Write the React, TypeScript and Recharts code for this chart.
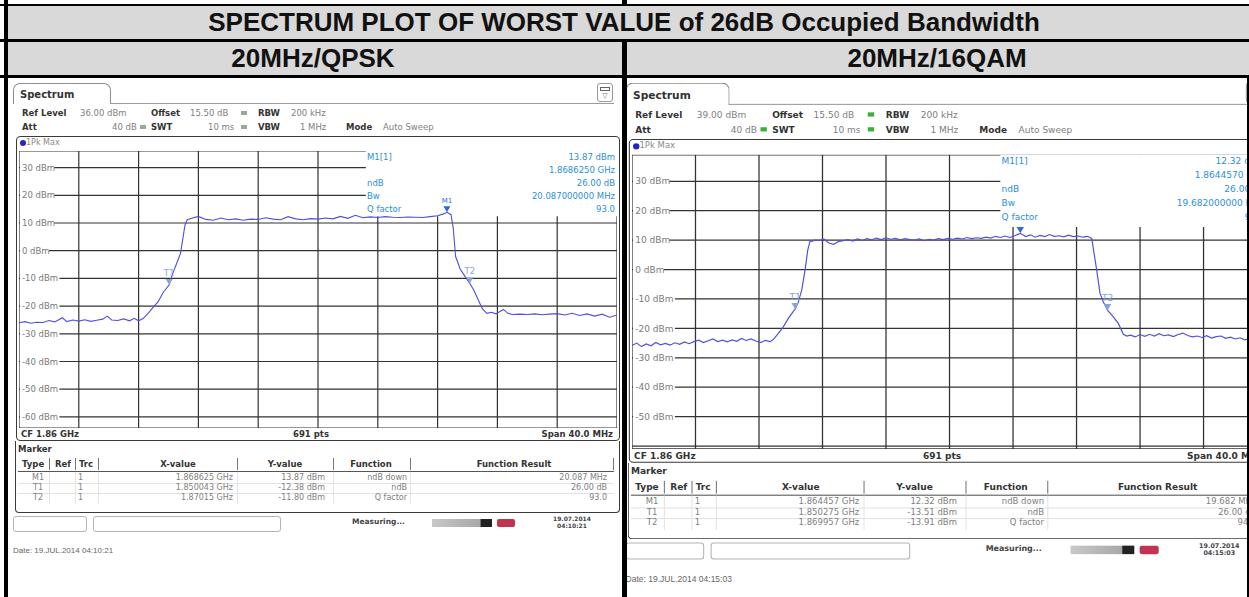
import {
  CartesianGrid,
  ComposedChart,
  Line,
  ReferenceArea,
  Scatter,
  XAxis,
  YAxis,
} from "recharts"

const SANS = "'DejaVu Sans', Verdana, sans-serif"
const ARIAL = "'Liberation Sans', Arial, sans-serif"

// sweep 1.84 .. 1.88 GHz (CF 1.86 GHz, span 40 MHz), 10 divisions, values in MHz
const freqTicks = [1840, 1844, 1848, 1852, 1856, 1860, 1864, 1868, 1872, 1876, 1880]

// ---- 20MHz/QPSK, ref level 36 dBm ----
const qpskTrace: [number, number][] = [
  [1840.0, -26.0], [1840.4, -25.6], [1840.8, -26.2], [1841.2, -25.8], [1841.6, -25.9],
  [1842.0, -25.2], [1842.4, -25.7], [1842.9, -24.2], [1843.2, -25.6], [1843.6, -25.0],
  [1844.0, -25.4], [1844.4, -24.9], [1844.8, -25.5], [1845.2, -25.1], [1845.6, -24.7],
  [1845.9, -23.6], [1846.2, -25.0], [1846.6, -25.2], [1847.0, -24.6], [1847.4, -25.3],
  [1847.7, -24.4], [1848.0, -25.3], [1848.3, -24.5], [1848.6, -22.8], [1849.0, -20.3],
  [1849.3, -18.5], [1849.65, -15.0], [1850.04, -12.4], [1850.3, -8.0], [1850.55, -4.5],
  [1850.8, -1.0], [1850.95, 4.0], [1851.1, 9.2], [1851.25, 11.2], [1851.5, 11.6],
  [1852.0, 12.4], [1852.5, 11.3], [1853.0, 11.0], [1853.5, 11.8], [1854.0, 11.2],
  [1854.5, 11.5], [1855.0, 11.0], [1855.5, 11.4], [1856.0, 11.3], [1856.5, 11.9],
  [1857.0, 11.4], [1857.5, 11.2], [1858.0, 12.3], [1858.5, 11.5], [1859.0, 11.2],
  [1859.5, 11.6], [1860.0, 11.4], [1860.5, 11.8], [1861.0, 11.5], [1861.5, 12.4],
  [1862.0, 11.7], [1862.5, 12.8], [1863.0, 11.9], [1863.5, 12.2], [1864.0, 12.0],
  [1864.5, 12.3], [1865.0, 12.1], [1865.5, 12.0], [1866.0, 12.2], [1866.5, 12.1],
  [1867.0, 12.0], [1867.5, 12.3], [1868.0, 12.6], [1868.4, 13.3], [1868.63, 13.87],
  [1868.9, 13.0], [1869.05, 8.0], [1869.2, -2.0], [1869.5, -6.5], [1869.8, -9.0],
  [1870.15, -11.8], [1870.4, -14.0], [1870.7, -17.5], [1871.0, -21.0], [1871.3, -22.6],
  [1871.6, -22.2], [1871.9, -22.8], [1872.4, -21.2], [1872.7, -22.6], [1873.0, -23.0],
  [1873.5, -22.9], [1874.0, -23.0], [1874.5, -22.8], [1875.0, -23.1], [1875.5, -22.9],
  [1876.0, -22.7], [1876.5, -23.2], [1877.0, -22.6], [1877.5, -23.4], [1878.0, -22.8],
  [1878.5, -23.6], [1879.0, -22.9], [1879.5, -24.0], [1880.0, -23.2],
]
const qpskMarkerNames = ["M1", "T1", "T2"]
const qpskMarkerFreq = [1868.625, 1850.043, 1870.15]
const qpskMarkerLevel = [13.87, -12.38, -11.8]
const qpskFunctions = ["ndB down", "ndB", "Q factor"]
const qpskResults = ["20.087 MHz", "26.00 dB", "93.0"]
const qpskBw = "20.087000000"
const qpskQ = "93.0"
const qpskYTicks = [36, 30, 20, 10, 0, -10, -20, -30, -40, -50, -60, -64]
const qpskYLabels = [30, 20, 10, 0, -10, -20, -30, -40, -50, -60]

// ---- 20MHz/16QAM, ref level 39 dBm ----
const qamTrace: [number, number][] = [
  [1840.0, -25.8], [1840.3, -25.0], [1840.6, -26.2], [1840.9, -25.3], [1841.2, -25.9],
  [1841.5, -24.8], [1841.8, -25.6], [1842.1, -25.1], [1842.4, -25.7], [1842.7, -24.9],
  [1843.0, -25.4], [1843.3, -24.6], [1843.6, -25.2], [1843.9, -24.5], [1844.2, -24.0],
  [1844.5, -24.8], [1844.8, -24.2], [1845.1, -23.6], [1845.4, -24.5], [1845.7, -24.0],
  [1846.0, -24.6], [1846.3, -23.9], [1846.6, -24.4], [1846.9, -23.4], [1847.2, -24.1],
  [1847.5, -23.6], [1847.8, -24.3], [1848.1, -24.8], [1848.4, -24.1], [1848.7, -24.5],
  [1848.9, -23.8], [1849.22, -21.7], [1849.53, -19.5], [1849.85, -16.6], [1850.16, -14.2],
  [1850.28, -13.5], [1850.48, -11.0], [1850.69, -7.0], [1850.9, -0.2], [1851.07, 6.6],
  [1851.2, 9.4], [1851.5, 10.0], [1851.8, 9.9], [1852.1, 10.3], [1852.4, 9.0],
  [1852.7, 8.6], [1853.0, 9.5], [1853.3, 9.8], [1853.6, 10.2], [1853.9, 9.7],
  [1854.2, 10.4], [1854.5, 9.9], [1854.8, 10.5], [1855.1, 10.1], [1855.4, 10.7],
  [1855.7, 10.2], [1856.0, 10.8], [1856.3, 10.3], [1856.6, 10.6], [1856.9, 10.1],
  [1857.2, 10.5], [1857.5, 10.2], [1857.8, 10.0], [1858.1, 10.4], [1858.4, 9.8],
  [1858.7, 10.3], [1859.0, 10.0], [1859.3, 10.5], [1859.6, 10.2], [1859.9, 10.6],
  [1860.2, 10.3], [1860.5, 10.7], [1860.8, 10.4], [1861.1, 10.9], [1861.4, 10.5],
  [1861.7, 10.8], [1862.0, 10.6], [1862.3, 11.0], [1862.6, 10.7], [1862.9, 11.3],
  [1863.2, 10.9], [1863.5, 11.4], [1863.8, 10.9], [1864.1, 11.5], [1864.46, 12.3],
  [1864.8, 11.2], [1865.1, 11.8], [1865.4, 11.0], [1865.7, 11.6], [1866.0, 11.2],
  [1866.3, 11.9], [1866.6, 11.3], [1866.9, 11.5], [1867.2, 11.1], [1867.5, 11.7],
  [1867.8, 11.2], [1868.1, 11.4], [1868.4, 11.0], [1868.7, 11.3], [1868.96, 10.6],
  [1869.27, -0.2], [1869.48, -8.1], [1869.69, -11.0], [1869.96, -13.9], [1870.32, -16.1],
  [1870.63, -18.3], [1870.95, -22.0], [1871.16, -22.6], [1871.4, -22.3], [1871.7, -22.9],
  [1872.0, -22.1], [1872.3, -22.7], [1872.6, -22.0], [1872.9, -22.6], [1873.2, -21.8],
  [1873.5, -22.5], [1873.8, -22.2], [1874.1, -22.8], [1874.4, -22.1], [1874.7, -21.6],
  [1875.0, -22.4], [1875.3, -22.9], [1875.6, -22.6], [1875.9, -23.1], [1876.2, -22.5],
  [1876.5, -23.3], [1876.8, -22.8], [1877.1, -22.6], [1877.4, -23.4], [1877.7, -23.0],
  [1878.0, -23.6], [1878.3, -23.2], [1878.6, -23.9], [1878.9, -23.5], [1879.2, -24.1],
  [1879.6, -23.7], [1880.0, -24.2],
]
const qamMarkerNames = ["M1", "T1", "T2"]
const qamMarkerFreq = [1864.457, 1850.275, 1869.957]
const qamMarkerLevel = [12.32, -13.51, -13.91]
const qamFunctions = ["ndB down", "ndB", "Q factor"]
const qamResults = ["19.682 MHz", "26.00 dB", "94.7"]
const qamBw = "19.682000000"
const qamQ = "94.7"
const qamYTicks = [39, 30, 20, 10, 0, -10, -20, -30, -40, -50, -60, -61]
const qamYLabels = [30, 20, 10, 0, -10, -20, -30, -40, -50]

type TxtProps = {
  x: number
  y: number
  s: string
  size?: number
  bold?: boolean
  color?: string
  align?: "left" | "right" | "center"
  font?: string
}

function Txt({ x, y, s, size = 8.5, bold, color = "#808080", align = "left", font = SANS }: TxtProps) {
  const tx = align === "right" ? "translateX(-100%)" : align === "center" ? "translateX(-50%)" : undefined
  return (
    <div
      style={{
        position: "absolute",
        left: x,
        top: y - 7,
        height: 14,
        lineHeight: "14px",
        fontSize: size,
        fontWeight: bold ? "bold" : "normal",
        color,
        whiteSpace: "nowrap",
        transform: tx,
        fontFamily: font,
      }}
    >
      {s}
    </div>
  )
}

function Box(props: { x: number; y: number; w: number; h: number; style?: React.CSSProperties }) {
  return (
    <div
      style={{
        position: "absolute",
        left: props.x,
        top: props.y,
        width: props.w,
        height: props.h,
        boxSizing: "border-box",
        ...props.style,
      }}
    />
  )
}

function makeTick(labels: number[]) {
  return (props: any) => {
    const { y, payload } = props
    if (!labels.includes(payload.value)) return <g />
    const s = `${payload.value} dBm`
    return (
      <g>
        <rect x={1} y={y - 5} width={s.length * 5.2 + 3} height={10} fill="#fff" />
        <text x={3} y={y + 3} fontSize={8.5} fill="#7a7a7a" fontFamily={SANS}>
          {s}
        </text>
      </g>
    )
  }
}

// marker triangle sits on the trace; labelled markers get their name above it
function makeMarkerShape(showMain: boolean) {
  return (props: any) => {
    const { cx, cy, payload } = props
    const main = payload.name === "M1"
    const col = main ? "#2a6fd0" : "#86a6d6"
    return (
      <g>
        <polygon points={`${cx - 3.5},${cy - 6} ${cx + 3.5},${cy - 6} ${cx},${cy}`} fill={col} />
        {(!main || showMain) && (
          <text x={cx} y={cy - 9} textAnchor="middle" fontSize={main ? 7 : 8.5} fill={col} fontFamily={SANS}>
            {payload.name}
          </text>
        )}
      </g>
    )
  }
}

type PanelProps = {
  trace: [number, number][]
  markerNames: string[]
  markerFreq: number[]
  markerLevel: number[]
  functions: string[]
  results: string[]
  bw: string
  q: string
  yTicks: number[]
  yLabels: number[]
  boxBottom: number
  showM1Label: boolean
  stampTime: string
  dateLine: string
  bulletColor: string
}

function Panel(p: PanelProps) {
  const data = p.trace.map(([f, lvl]) => ({ f, lvl }))
  const markers = p.markerNames.map((name, i) => ({ name, f: p.markerFreq[i], lvl: p.markerLevel[i] }))
  const ref = p.yTicks[0]
  const bottom = p.yTicks[p.yTicks.length - 1]
  const ghz = (f: number, d: number) => (f / 1000).toFixed(d)
  const xText = (f: number) => `${ghz(f, 6).replace(/0+$/, "")} GHz`
  const blue = "#2b8fd8"
  const rowY = [400, 410, 420]
  const seps = [41, 67, 90, 229, 325, 402]
  const sq = (x: number, y: number) => (
    <Box x={x} y={y - 2} w={6} h={4} style={{ background: p.bulletColor }} />
  )

  return (
    <div style={{ position: "absolute", left: 0, top: 0, width: 614, height: 519, fontFamily: SANS }}>
      {/* tab and title bar */}
      <Box x={5} y={5} w={98} h={21} style={{ border: "1px solid #8c8c8c", borderBottom: "none", borderRadius: "7px 7px 0 0" }} />
      <Box x={102} y={25} w={504} h={1} style={{ background: "#9c9c9c" }} />
      <Txt x={12} y={17} s="Spectrum" size={10} bold color="#333" />
      <Box x={589} y={5} w={16} h={19} style={{ border: "1px solid #999", borderRadius: 3 }} />
      <Box x={592} y={9} w={10} h={4} style={{ border: "1px solid #666" }} />
      <Txt x={597} y={18} s="▽" size={7} color="#666" align="center" />

      {/* setting lines */}
      <Txt x={14} y={35} s="Ref Level" bold color="#333" />
      <Txt x={72} y={35} s={`${ref.toFixed(2)} dBm`} />
      <Txt x={143} y={35} s="Offset" bold color="#333" />
      <Txt x={182} y={35} s="15.50 dB" />
      {sq(233, 35)}
      <Txt x={250} y={35} s="RBW" bold color="#333" />
      <Txt x={283} y={35} s="200 kHz" />
      <Txt x={14} y={49} s="Att" bold color="#333" />
      <Txt x={104} y={49} s="40 dB" />
      {sq(132, 49)}
      <Txt x={143} y={49} s="SWT" bold color="#333" />
      <Txt x={200} y={49} s="10 ms" />
      {sq(233, 49)}
      <Txt x={250} y={49} s="VBW" bold color="#333" />
      <Txt x={292} y={49} s="1 MHz" />
      <Txt x={338} y={49} s="Mode" bold color="#333" />
      <Txt x={375} y={49} s="Auto Sweep" />

      {/* diagram frame */}
      <Box x={8} y={58} w={604} h={305} style={{ border: "1.5px solid #3a3a3a", borderRadius: 4 }} />
      <Box x={12} y={62} w={6} h={6} style={{ background: "#2424c8", borderRadius: 3 }} />
      <Txt x={18} y={65} s="1Pk Max" size={8} color="#8a8a8a" />

      <div style={{ position: "absolute", left: 11, top: 72.5 }}>
        <ComposedChart width={598} height={277} margin={{ top: 0, right: 0, bottom: 0, left: 0 }}>
          <CartesianGrid stroke="#333" strokeWidth={1.2} />
          <ReferenceArea x1={1863.2} x2={1880} y1={p.boxBottom} y2={ref} fill="#ffffff" fillOpacity={1} stroke="none" ifOverflow="hidden" />
          <XAxis type="number" dataKey="f" domain={[1840, 1880]} ticks={freqTicks} hide allowDataOverflow />
          <YAxis
            type="number"
            dataKey="lvl"
            domain={[bottom, ref]}
            ticks={p.yTicks}
            mirror
            axisLine={false}
            tickLine={false}
            tick={makeTick(p.yLabels)}
            interval={0}
            allowDataOverflow
          />
          <Line data={data} dataKey="lvl" stroke="#4f4fe2" strokeWidth={1.1} dot={false} isAnimationActive={false} />
          <Scatter data={markers} dataKey="lvl" shape={makeMarkerShape(p.showM1Label)} isAnimationActive={false} />
        </ComposedChart>
      </div>

      {/* marker info box */}
      <Txt x={359} y={79} s="M1[1]" color={blue} />
      <Txt x={607} y={79} s={`${p.markerLevel[0].toFixed(2)} dBm`} color={blue} align="right" />
      <Txt x={607} y={92} s={`${ghz(p.markerFreq[0], 7)} GHz`} color={blue} align="right" />
      <Txt x={359} y={105} s="ndB" color={blue} />
      <Txt x={607} y={105} s="26.00 dB" color={blue} align="right" />
      <Txt x={359} y={118} s="Bw" color={blue} />
      <Txt x={607} y={118} s={`${p.bw} MHz`} color={blue} align="right" />
      <Txt x={359} y={131} s="Q factor" color={blue} />
      <Txt x={607} y={131} s={p.q} color={blue} align="right" />

      {/* footer */}
      <Txt x={13} y={356} s="CF 1.86 GHz" bold color="#333" />
      <Txt x={303} y={356} s="691 pts" bold color="#333" align="center" />
      <Txt x={605} y={356} s="Span 40.0 MHz" bold color="#333" align="right" />

      {/* marker table */}
      <Box x={7} y={363} w={605} h={72} style={{ border: "1.5px solid #3a3a3a", borderTop: "none", borderRadius: "0 0 4px 4px" }} />
      <Txt x={10} y={371} s="Marker" bold color="#333" />
      <Txt x={14} y={386} s="Type" bold color="#333" />
      <Txt x={47} y={386} s="Ref" bold color="#333" />
      <Txt x={71} y={386} s="Trc" bold color="#333" />
      <Txt x={170} y={386} s="X-value" bold color="#333" align="center" />
      <Txt x={277} y={386} s="Y-value" bold color="#333" align="center" />
      <Txt x={363} y={386} s="Function" bold color="#333" align="center" />
      <Txt x={506} y={386} s="Function Result" bold color="#333" align="center" />
      {seps.map((x) => (
        <Box key={x} x={x} y={380} w={1} h={12} style={{ background: "#777" }} />
      ))}
      <Box x={605} y={380} w={1} h={12} style={{ background: "#777" }} />
      <Box x={10} y={393} w={596} h={1} style={{ background: "#555" }} />
      {[405, 415].map((y) => (
        <Box key={y} x={10} y={y} w={596} h={1} style={{ background: "#e2e2e2" }} />
      ))}
      {seps.map((x) => (
        <Box key={"r" + x} x={x} y={394} w={1} h={32} style={{ background: "#e4e4e4" }} />
      ))}
      {markers.map((m, i) => (
        <div key={m.name}>
          <Txt x={30} y={rowY[i]} s={m.name} size={8} align="center" />
          <Txt x={70} y={rowY[i]} s="1" size={8} />
          <Txt x={225} y={rowY[i]} s={xText(m.f)} size={8} align="right" />
          <Txt x={317} y={rowY[i]} s={`${m.lvl.toFixed(2)} dBm`} size={8} align="right" />
          <Txt x={399} y={rowY[i]} s={p.functions[i]} size={8} align="right" />
          <Txt x={599} y={rowY[i]} s={p.results[i]} size={8} align="right" />
        </div>
      ))}

      {/* status bar */}
      <Box x={5} y={438} w={74} h={16} style={{ border: "1px solid #b4b4b4", borderRadius: 3 }} />
      <Box x={85} y={438} w={188} h={16} style={{ border: "1px solid #b4b4b4", borderRadius: 3 }} />
      <Txt x={344} y={444} s="Measuring..." size={7.5} bold color="#444" />
      <Box x={424} y={441} w={60} h={8} style={{ background: "linear-gradient(90deg,#c8c8c8,#a8a8a8 80%,#222 82%,#222)" }} />
      <Box x={489} y={441} w={18} h={8} style={{ background: "#c23352", borderRadius: 2 }} />
      <Txt x={564} y={441} s="19.07.2014" size={6} bold color="#444" align="center" />
      <Txt x={564} y={448} s={p.stampTime} size={6} bold color="#444" align="center" />

      <Txt x={5} y={473} s={p.dateLine} size={8} color="#666" font={ARIAL} />
    </div>
  )
}

export default function App() {
  return (
    <div style={{ position: "relative", width: 1249, height: 597, overflow: "hidden", background: "#fff" }}>
      <style>{"body{margin:0}"}</style>
      {/* table rules */}
      <Box x={0} y={4} w={1249} h={2} style={{ background: "#000" }} />
      <Box x={5} y={6} w={1244} h={33} style={{ background: "#d9d9d9" }} />
      <Box x={0} y={39} w={1249} h={3} style={{ background: "#000" }} />
      <Box x={5} y={42} w={1244} h={33} style={{ background: "#d9d9d9" }} />
      <Box x={0} y={75} w={1249} h={3} style={{ background: "#000" }} />
      <Box x={4} y={0} w={4} h={597} style={{ background: "#000" }} />
      <Box x={622} y={0} w={5} h={4} style={{ background: "#000" }} />
      <Box x={622} y={42} w={5} h={555} style={{ background: "#000" }} />
      <Box x={1247} y={78} w={2} h={519} style={{ background: "#000" }} />
      <Txt x={624} y={22} s="SPECTRUM PLOT OF WORST VALUE of 26dB Occupied Bandwidth" size={26} bold color="#111" align="center" font={ARIAL} />
      <Txt x={313} y={58} s="20MHz/QPSK" size={26} bold color="#111" align="center" font={ARIAL} />
      <Txt x={937} y={58} s="20MHz/16QAM" size={26} bold color="#111" align="center" font={ARIAL} />

      <div style={{ position: "absolute", left: 8, top: 78, width: 614, height: 519, overflow: "hidden" }}>
        <Panel
          trace={qpskTrace}
          markerNames={qpskMarkerNames}
          markerFreq={qpskMarkerFreq}
          markerLevel={qpskMarkerLevel}
          functions={qpskFunctions}
          results={qpskResults}
          bw={qpskBw}
          q={qpskQ}
          yTicks={qpskYTicks}
          yLabels={qpskYLabels}
          boxBottom={12.4}
          showM1Label={true}
          stampTime="04:10:21"
          dateLine="Date: 19.JUL.2014 04:10:21"
          bulletColor="#9aa89a"
        />
      </div>
      <div style={{ position: "absolute", left: 627, top: 78, width: 620, height: 519, overflow: "hidden" }}>
        <div style={{ position: "absolute", left: 0, top: 0, transform: "translate(-6.7px,-0.7px) scale(1.062)", transformOrigin: "0 0" }}>
          <Panel
            trace={qamTrace}
            markerNames={qamMarkerNames}
            markerFreq={qamMarkerFreq}
            markerLevel={qamMarkerLevel}
            functions={qamFunctions}
            results={qamResults}
            bw={qamBw}
            q={qamQ}
            yTicks={qamYTicks}
            yLabels={qamYLabels}
            boxBottom={14.5}
            showM1Label={false}
            stampTime="04:15:03"
            dateLine="Date: 19.JUL.2014 04:15:03"
            bulletColor="#3fae3f"
          />
        </div>
      </div>
    </div>
  )
}
